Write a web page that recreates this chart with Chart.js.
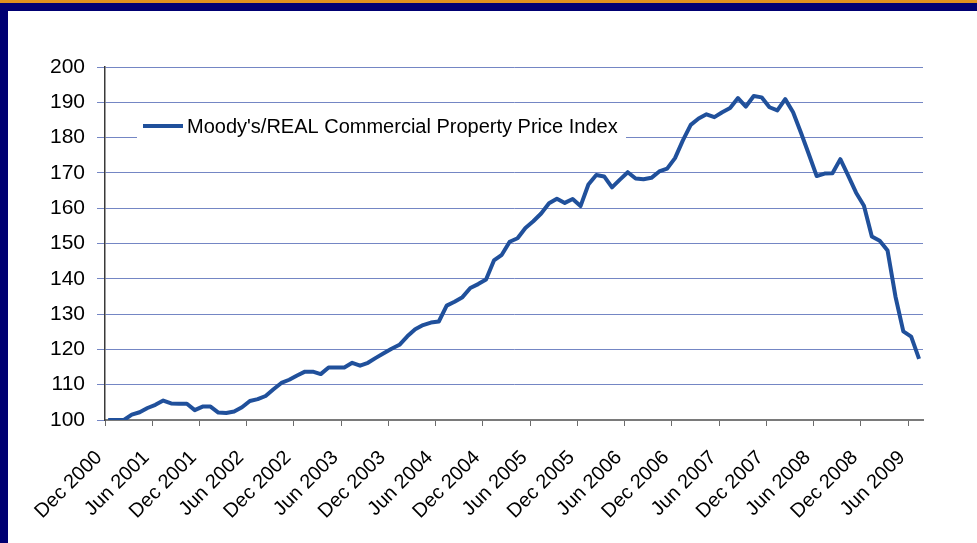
<!DOCTYPE html>
<html>
<head>
<meta charset="utf-8">
<script src="https://cdn.jsdelivr.net/npm/chart.js@4.4.0/dist/chart.umd.min.js"></script>
<style>
  html, body { margin: 0; padding: 0; background: #fff; }
  body { width: 977px; height: 543px; position: relative; overflow: hidden; }
  #topOrange { position: absolute; left: 0; top: 0; width: 977px; height: 3px; background: #DE921E; }
  #topNavy { position: absolute; left: 0; top: 3px; width: 977px; height: 8px; background: #000072; }
  #leftNavy { position: absolute; left: 0; top: 3px; width: 8px; height: 540px; background: #000072; }
  #wrap { position: absolute; left: 8px; top: 11px; width: 969px; height: 532px; }
</style>
</head>
<body>
<div id="topOrange"></div>
<div id="topNavy"></div>
<div id="leftNavy"></div>
<div id="wrap"><canvas id="chartCppi"></canvas></div>
<script>
// monthly index, Dec 2000 = 100, through Jul 2009
const seriesName = "Moody's/REAL Commercial Property Price Index";
const indexValues = [
  100.0, 100.0, 100.0, 101.5, 102.2, 103.4, 104.3, 105.5, 104.7, 104.6,
  104.6, 102.8, 103.8, 103.8, 102.1, 102.0, 102.4, 103.6, 105.4, 105.9,
  106.8, 108.7, 110.5, 111.4, 112.6, 113.7, 113.7, 113.0, 114.9, 114.9,
  114.9, 116.2, 115.4, 116.2, 117.6, 118.9, 120.2, 121.3, 123.7, 125.7,
  126.9, 127.6, 127.9, 132.4, 133.5, 134.8, 137.4, 138.5, 139.8, 145.2,
  146.8, 150.5, 151.5, 154.4, 156.3, 158.5, 161.4, 162.7, 161.5, 162.6,
  160.6, 166.7, 169.4, 169.0, 165.9, 168.1, 170.2, 168.4, 168.2, 168.6,
  170.4, 171.2, 174.2, 179.2, 183.6, 185.4, 186.6, 185.8, 187.2, 188.4,
  191.2, 188.8, 191.8, 191.4, 188.6, 187.7, 190.9, 187.2, 181.4, 175.3,
  169.1, 169.8, 169.9, 173.9, 169.2, 164.4, 160.7, 152.0, 150.8, 148.0,
  135.0, 125.1, 123.6, 117.3
];
const tickLabels = [
  "Dec 2000", "Jun 2001", "Dec 2001", "Jun 2002", "Dec 2002", "Jun 2003",
  "Dec 2003", "Jun 2004", "Dec 2004", "Jun 2005", "Dec 2005", "Jun 2006",
  "Dec 2006", "Jun 2007", "Dec 2007", "Jun 2008", "Dec 2008", "Jun 2009"
];
const monthsPerTick = 6;

const fontFamily = "'Liberation Sans', Arial, sans-serif";
const lineColor = "#20509B";

// legend drawn as a boxed label over the grid, like the original
const legendBox = {
  id: "legendBox",
  beforeDatasetsDraw(chart) {
    const { ctx, chartArea } = chart;
    const ds = chart.data.datasets[0];
    const left = chartArea.left + 32;
    const top = chartArea.top + 43;
    const midY = chartArea.top + 59;
    ctx.save();
    ctx.fillStyle = "#fff";
    ctx.fillRect(left, top, 489, 34);
    ctx.strokeStyle = ds.borderColor;
    ctx.lineWidth = 4;
    ctx.beginPath();
    ctx.moveTo(chartArea.left + 38, midY);
    ctx.lineTo(chartArea.left + 78, midY);
    ctx.stroke();
    ctx.fillStyle = "#000";
    ctx.font = "20px " + fontFamily;
    ctx.textBaseline = "middle";
    ctx.fillText(ds.label, chartArea.left + 82, midY + 1);
    ctx.restore();
  }
};

new Chart(document.getElementById("chartCppi"), {
  type: "line",
  data: {
    datasets: [
      {
        label: seriesName,
        data: indexValues.map((v, i) => ({ x: i, y: v })),
        borderColor: lineColor,
        borderWidth: 4,
        pointRadius: 0,
        tension: 0,
        borderJoinStyle: "round",
        fill: false,
      },
    ],
  },
  options: {
    responsive: true,
    maintainAspectRatio: false,
    animation: false,
    layout: { padding: { top: 56, right: 54, left: 0, bottom: 0 } },
    plugins: {
      legend: { display: false },
      tooltip: { enabled: false },
    },
    scales: {
      x: {
        type: "linear",
        min: -0.4,
        max: 103.5,
        afterFit: (scale) => { scale.height = 123; },
        afterBuildTicks: (scale) => {
          scale.ticks = tickLabels.map((_, k) => ({ value: k * monthsPerTick - 0.4 }));
        },
        grid: {
          display: true,
          drawOnChartArea: false,
          drawTicks: true,
          tickLength: 6,
          tickColor: "#6b6b6b",
        },
        border: { color: "#7a7a7a", width: 2 },
        ticks: {
          autoSkip: false,
          maxRotation: 45,
          minRotation: 45,
          padding: 20,
          labelOffset: -6,
          color: "#000",
          font: { family: fontFamily, size: 20 },
          callback: (value, index) => tickLabels[index],
        },
      },
      y: {
        min: 100,
        max: 200,
        afterFit: (scale) => { scale.width = 97; },
        grid: {
          color: "#7486C4",
          lineWidth: 1,
          tickLength: 8,
          tickColor: "#7486C4",
        },
        border: { color: "#3a3a3a", width: 1.5 },
        ticks: {
          stepSize: 10,
          padding: 12,
          color: "#000",
          font: { family: fontFamily, size: 21 },
        },
      },
    },
  },
  plugins: [legendBox],
});
</script>
</body>
</html>
